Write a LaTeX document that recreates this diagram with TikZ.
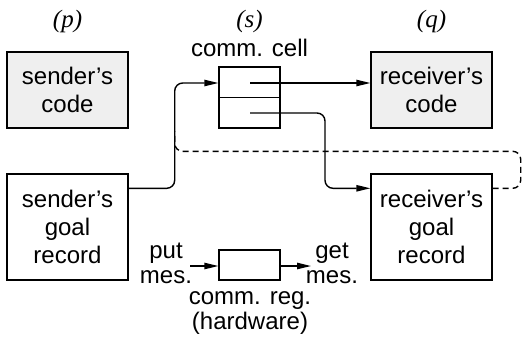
\documentclass[tikz,border=0pt]{standalone}
\usepackage{fontspec}
\setmainfont{Liberation Sans}
\newfontfamily\labelfont{Liberation Serif}
\usetikzlibrary{arrows.meta}
\definecolor{codegray}{HTML}{EFEFEF}
\tikzset{
  box/.style={draw, line width=0.7pt, minimum width=60.5pt, align=center,
    font=\fontsize{12}{13.8}\selectfont, inner sep=0pt},
  codebox/.style={box, fill=codegray, minimum height=38pt},
  goalbox/.style={box, fill=white, minimum height=53pt},
  cellbox/.style={draw, line width=0.7pt, minimum width=30.5pt, inner sep=0pt},
  txt/.style={font=\fontsize{12}{12.5}\selectfont, align=center, inner sep=0pt},
  proc/.style={font=\labelfont\itshape\fontsize{12.5}{14}\selectfont, inner sep=0pt},
  conn/.style={line width=0.7pt, rounded corners=4pt},
  arr/.style={conn, -{Triangle[length=7pt,width=3.2pt]}},
}
\begin{document}
\begin{tikzpicture}[x=0.5pt, y=-0.5pt]
\useasboundingbox (0,0) rectangle (525,338);

% process labels
\node[proc] (p) at (67.5,21) {(p)};
\node[proc] (s) at (249.5,21) {(s)};
\node[proc] (q) at (431.5,21) {(q)};

% code and goal records
\node[codebox] (scode) at (67.5,90) {sender’s\\code};
\node[codebox] (rcode) at (431.5,90) {receiver’s\\code};
\node[goalbox] (sgoal) at (67.5,227) {sender’s\\goal\\record};
\node[goalbox] (rgoal) at (431.5,227) {receiver’s\\goal\\record};

% communication cell with two fields
\node[txt] (celllabel) at (249.5,48) {comm. cell};
\node[cellbox, minimum height=30.5pt] (cell) at (249.5,97.5) {};
\draw[line width=0.7pt] (cell.west) -- (cell.east);
\coordinate (out1) at (250,83);
\coordinate (out2) at (250,113);

% connectors
\draw[arr] ([yshift=-7.5pt]sgoal.north east) -- ++(46,0) |- (cell.west |- out1);
\draw[arr] (out1) -- (rcode.west |- out1);
\draw[arr] (out2) -- ++(75,0) |- ([yshift=-7.5pt]rgoal.north west);
\draw[conn, dash pattern=on 3pt off 2pt]
  ([yshift=-7.5pt]rgoal.north east) -- ++(28,0) -- ++(0,-37) -- ++(-346,0) -- ++(0,-20);

% communication register
\node[cellbox, minimum height=15pt] (reg) at (249.5,265) {};
\coordinate (putend) at (190,266);
\coordinate (getend) at (311,266);
\draw[arr] (putend) -- (reg.west |- putend);
\draw[arr] (reg.east |- getend) -- (getend);
\node[txt] (put) at (166,263) {put\\mes.};
\node[txt] (get) at (332,263) {get\\mes.};
\node[txt] (reglabel) at (250,313) {comm. reg.\\(hardware)};
\end{tikzpicture}
\end{document}
